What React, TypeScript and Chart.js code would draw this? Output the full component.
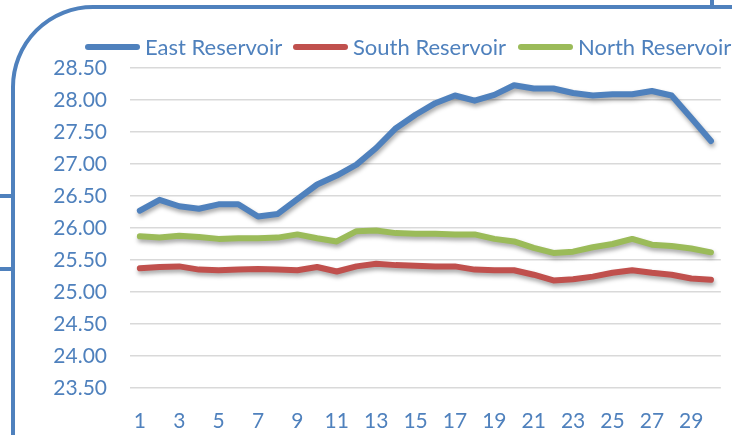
import React, { useEffect, useRef } from "react";
import { Chart, registerables } from "chart.js";

Chart.register(...registerables);

const days: string[] = Array.from({ length: 30 }, (_, i) => String(i + 1));

const eastReservoir: number[] = [
  26.27, 26.44, 26.34, 26.3, 26.37, 26.37, 26.18, 26.22, 26.45, 26.68,
  26.82, 26.99, 27.25, 27.56, 27.77, 27.95, 28.07, 27.99, 28.08, 28.23,
  28.18, 28.18, 28.11, 28.07, 28.09, 28.09, 28.14, 28.07, 27.72, 27.36,
];

const southReservoir: number[] = [
  25.37, 25.39, 25.4, 25.35, 25.34, 25.35, 25.36, 25.35, 25.34, 25.39,
  25.32, 25.4, 25.44, 25.42, 25.41, 25.4, 25.4, 25.35, 25.34, 25.34,
  25.27, 25.18, 25.2, 25.24, 25.3, 25.34, 25.3, 25.27, 25.21, 25.19,
];

const northReservoir: number[] = [
  25.87, 25.85, 25.88, 25.86, 25.83, 25.84, 25.84, 25.85, 25.9, 25.84,
  25.79, 25.95, 25.96, 25.92, 25.91, 25.91, 25.9, 25.9, 25.83, 25.79,
  25.69, 25.61, 25.63, 25.7, 25.75, 25.83, 25.74, 25.72, 25.68, 25.62,
];

const seriesNames: string[] = ["East Reservoir", "South Reservoir", "North Reservoir"];
const seriesColors: string[] = ["#4F81BD", "#C0504D", "#9BBB59"];

const yMin = 23.5;
const yMax = 28.5;
const yStep = 0.5;

const TEXT_COLOR = "#4F81BD";
const FONT = "Lato, 'Open Sans', sans-serif";

const shadowPlugin = {
  id: "lineShadow",
  beforeDatasetDraw(chart: any) {
    const ctx = chart.ctx;
    ctx.save();
    ctx.shadowColor = "rgba(0,0,0,0.35)";
    ctx.shadowBlur = 4;
    ctx.shadowOffsetX = 1;
    ctx.shadowOffsetY = 3;
  },
  afterDatasetDraw(chart: any) {
    chart.ctx.restore();
  },
};

export default function App() {
  const canvasRef = useRef<HTMLCanvasElement | null>(null);

  useEffect(() => {
    document.body.style.margin = "0";
    const canvas = canvasRef.current;
    if (!canvas) return;
    const values = [eastReservoir, southReservoir, northReservoir];
    const chart = new Chart(canvas, {
      type: "line",
      data: {
        labels: days,
        datasets: values.map((v, i) => ({
          label: seriesNames[i],
          data: v,
          borderColor: seriesColors[i],
          backgroundColor: seriesColors[i],
          borderWidth: 6,
          borderJoinStyle: "round" as const,
          borderCapStyle: "round" as const,
          pointRadius: 0,
          tension: 0,
          fill: false,
        })),
      },
      options: {
        animation: false,
        responsive: false,
        maintainAspectRatio: false,
        layout: { padding: { top: 68, right: 1, left: 0, bottom: 0 } },
        plugins: {
          legend: { display: false },
          tooltip: { enabled: false },
        },
        scales: {
          x: {
            offset: true,
            grid: { display: false, drawTicks: false },
            border: { display: false },
            ticks: {
              autoSkip: false,
              maxRotation: 0,
              padding: 21,
              color: TEXT_COLOR,
              font: { family: FONT, size: 21 },
              callback: (_v: any, i: number) => (i % 2 === 0 ? days[i] : ""),
            },
            afterFit: (scale: any) => {
              scale.height = 47;
            },
          },
          y: {
            min: yMin,
            max: yMax,
            grid: { color: "#D9D9D9", lineWidth: 1.5, drawTicks: false },
            border: { display: false },
            ticks: {
              stepSize: yStep,
              padding: 23,
              color: TEXT_COLOR,
              font: { family: FONT, size: 21 },
              callback: (v: any) => Number(v).toFixed(2),
            },
            afterFit: (scale: any) => {
              scale.width = 130;
            },
          },
        },
      },
      plugins: [shadowPlugin],
    });
    return () => chart.destroy();
  }, []);

  const legendItems = [
    { left: 85, name: seriesNames[0], color: seriesColors[0] },
    { left: 293, name: seriesNames[1], color: seriesColors[1] },
    { left: 518, name: seriesNames[2], color: seriesColors[2] },
  ];

  return (
    <div
      style={{
        position: "relative",
        width: 732,
        height: 435,
        overflow: "hidden",
        background: "#fff",
      }}
    >
      <div
        style={{
          position: "absolute",
          left: 11,
          top: 5,
          width: 900,
          height: 700,
          border: "4px solid #4F81BD",
          borderTopLeftRadius: 82,
          boxSizing: "border-box",
        }}
      />
      <div style={{ position: "absolute", left: 710, top: 0, width: 4, height: 7, background: "#4F81BD" }} />
      <div style={{ position: "absolute", left: 0, top: 194, width: 13, height: 4, background: "#4F81BD" }} />
      <div style={{ position: "absolute", left: 0, top: 267, width: 13, height: 4, background: "#4F81BD" }} />
      <canvas
        ref={canvasRef}
        width={732}
        height={435}
        style={{ position: "absolute", left: 0, top: 0, width: 732, height: 435 }}
      />
      {legendItems.map((it) => (
        <div
          key={it.name}
          style={{
            position: "absolute",
            left: it.left,
            top: 33,
            height: 28,
            display: "flex",
            alignItems: "center",
            whiteSpace: "nowrap",
          }}
        >
          <div style={{ width: 55, height: 6, borderRadius: 3, background: it.color }} />
          <span
            style={{
              marginLeft: 5,
              fontFamily: FONT,
              fontSize: 22,
              color: TEXT_COLOR,
              lineHeight: "28px",
            }}
          >
            {it.name}
          </span>
        </div>
      ))}
    </div>
  );
}
